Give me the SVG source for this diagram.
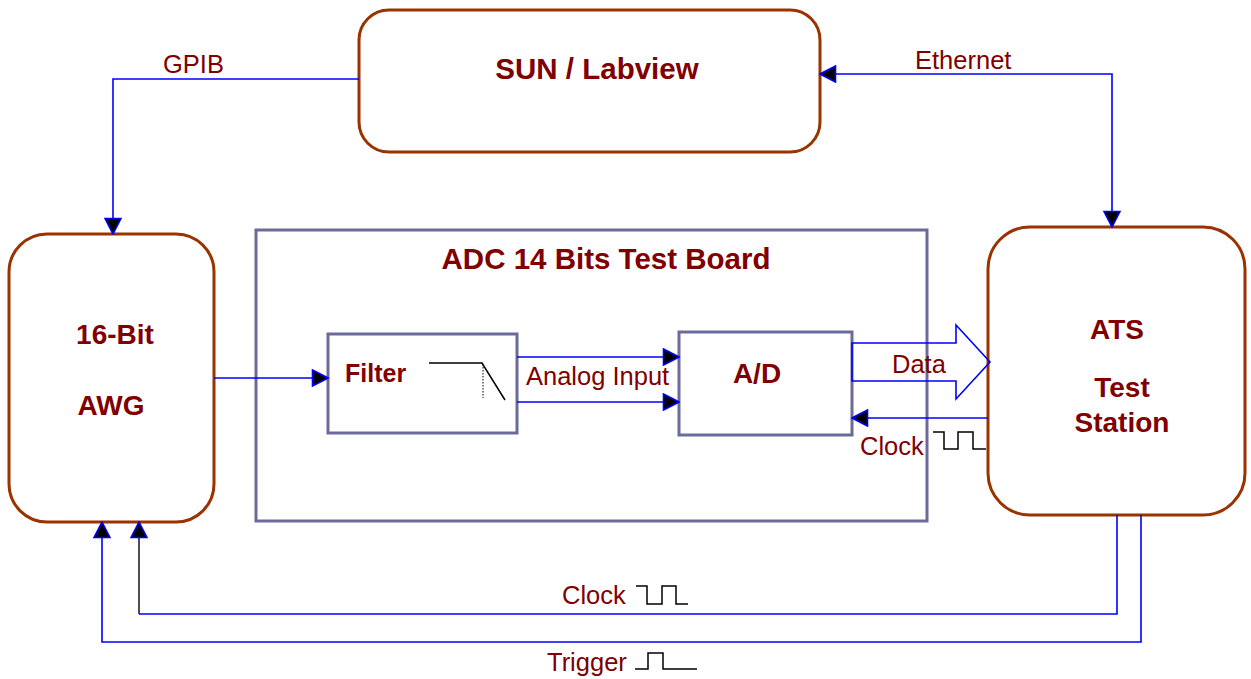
<svg xmlns="http://www.w3.org/2000/svg" width="1251" height="679" viewBox="0 0 1251 679">
<defs>
<style>
.node{fill:#fff;stroke:#993300;stroke-width:3}
.board{fill:#fff;stroke:#6b6b9b;stroke-width:3}
.lbl{font-family:"Liberation Sans",Arial,sans-serif;font-weight:bold;font-size:28px;fill:#800000}
.big{font-size:29.5px}
.txt{font-family:"Liberation Sans",Arial,sans-serif;font-size:25.5px;fill:#800000}
.conn{fill:none;stroke:#0000ff;stroke-width:1.6}
.wave{fill:none;stroke:#000;stroke-width:1.5}
</style>
<marker id="arr" viewBox="0 0 18 18" refX="17" refY="9" markerWidth="18" markerHeight="18" markerUnits="userSpaceOnUse" orient="auto-start-reverse">
<path d="M1.5,1 L17,9 L1.5,17 Z" fill="#000" stroke="#0000ff" stroke-width="1.6"/>
</marker>
</defs>
<rect width="1251" height="679" fill="#fff"/>

<g id="board">
<rect class="board" x="256" y="230" width="671" height="291"/>
<text class="lbl big" x="606" y="269" text-anchor="middle">ADC 14 Bits Test Board</text>
</g>

<g id="sun">
<rect class="node" x="359" y="10" width="461" height="142" rx="30" ry="30"/>
<text class="lbl big" x="597" y="79" text-anchor="middle">SUN / Labview</text>
</g>

<g id="awg">
<rect class="node" x="9" y="234" width="205" height="288" rx="38" ry="38"/>
<text class="lbl" x="115" y="344" text-anchor="middle">16-Bit</text>
<text class="lbl" x="111" y="415" text-anchor="middle">AWG</text>
</g>

<g id="ats">
<rect class="node" x="988" y="227" width="257" height="288" rx="42" ry="42"/>
<text class="lbl" x="1117" y="339" text-anchor="middle">ATS</text>
<text class="lbl" x="1122" y="397" text-anchor="middle">Test</text>
<text class="lbl" x="1122" y="432" text-anchor="middle">Station</text>
</g>

<g id="filter">
<rect class="board" x="328" y="334" width="189" height="99"/>
<text class="lbl" x="345" y="382" style="font-size:25px">Filter</text>
<path class="wave" d="M429,363 H482 L505,400"/>
<path d="M483,364 V398" fill="none" stroke="#000" stroke-width="1" stroke-dasharray="1.5,1.5"/>
</g>

<g id="ad">
<rect class="board" x="679" y="332" width="173" height="103"/>
<text class="lbl" x="757" y="383" text-anchor="middle">A/D</text>
</g>

<g id="connectors">
<path class="conn" d="M359,79 H113 V234" marker-end="url(#arr)"/>
<path class="conn" d="M1112,227 V74 H820" marker-start="url(#arr)" marker-end="url(#arr)"/>
<path class="conn" d="M214,378 H328" marker-end="url(#arr)"/>
<path class="conn" d="M517,357 H679" marker-end="url(#arr)"/>
<path class="conn" d="M517,402 H679" marker-end="url(#arr)"/>
<path class="conn" d="M988,418 H852" marker-end="url(#arr)"/>
<path class="conn" d="M852,343 H956 V325 L990,362 L956,399 V381 H852 Z"/>
<path class="conn" d="M1117,515 V614 H139"/>
<path class="conn" d="M139,614 V522" style="stroke:#222" marker-end="url(#arr)"/>
<path class="conn" d="M1141,515 V642 H102 V522" marker-end="url(#arr)"/>
</g>

<g id="labels">
<text class="txt" x="163" y="73">GPIB</text>
<text class="txt" x="915" y="69">Ethernet</text>
<text class="txt" x="526" y="385">Analog Input</text>
<text class="txt" x="892" y="373">Data</text>
<text class="txt" x="860" y="455">Clock</text>
<text class="txt" x="562" y="604">Clock</text>
<text class="txt" x="547" y="671">Trigger</text>
<path class="wave" d="M933,432 H944 V449 H958 V432 H973 V449 H986"/>
<path class="wave" d="M636,586 H647 V604 H662 V586 H676 V604 H688"/>
<path class="wave" d="M635,669 H648 V653 H663 V669 H697"/>
</g>
</svg>
